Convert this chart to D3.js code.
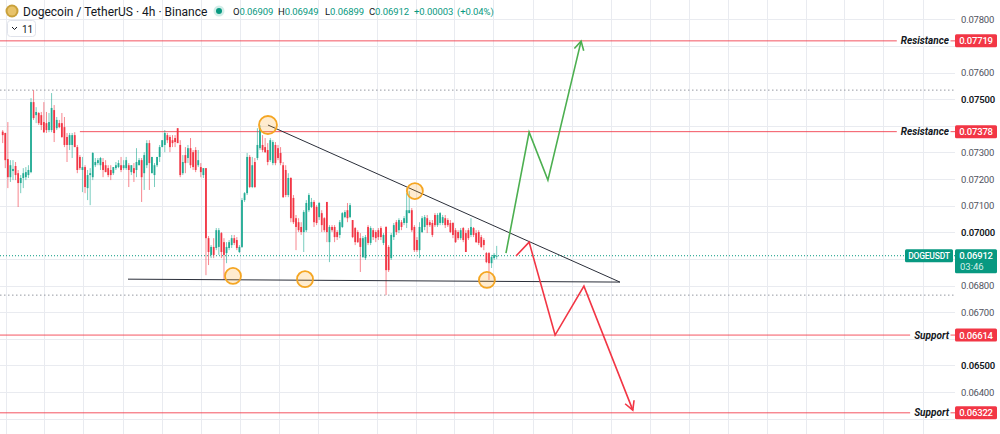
<!DOCTYPE html>
<html>
<head>
<meta charset="utf-8">
<script src="https://cdn.jsdelivr.net/npm/d3@7/dist/d3.min.js"></script>
<style>
  body { margin: 0; background: #fff; }
  svg { display: block; }
</style>
</head>
<body>
<div id="chart"></div>
<script>
// DOGE/USDT 4h candles
var opens = [
  0.07378,0.07373,0.07275,0.07207,0.07230,0.07249,0.07222,0.07185,0.07204,0.07207,
  0.07215,0.07226,0.07489,0.07440,0.07448,0.07440,0.07414,0.07410,0.07384,0.07384,
  0.07459,0.07391,0.07410,0.07410,0.07395,0.07358,0.07328,0.07328,0.07365,0.07320,
  0.07283,0.07234,0.07245,0.07166,0.07215,0.07207,0.07252,0.07260,0.07252,0.07264,
  0.07252,0.07241,0.07234,0.07222,0.07241,0.07245,0.07252,0.07241,0.07241,0.07252,
  0.07226,0.07241,0.07234,0.07252,0.07271,0.07222,0.07252,0.07335,0.07222,0.07215,
  0.07252,0.07283,0.07320,0.07328,0.07365,0.07358,0.07346,0.07354,0.07391,0.07328,
  0.07222,0.07290,0.07279,0.07316,0.07301,0.07309,0.07252,0.07245,0.07215,0.07241,
  0.06978,0.06915,0.06945,0.06941,0.06945,0.06997,0.06963,0.06922,0.06941,0.06952,
  0.06978,0.06971,0.06926,0.06945,0.07121,0.07147,0.07283,0.07170,0.07264,0.07279,
  0.07316,0.07328,0.07320,0.07309,0.07271,0.07260,0.07328,0.07316,0.07298,0.07252,
  0.07234,0.07140,0.07204,0.07129,0.07053,0.07038,0.07020,0.07001,0.07008,0.07083,
  0.07095,0.07114,0.07095,0.07057,0.07072,0.07053,0.07114,0.06963,0.07020,0.07020,
  0.07001,0.06990,0.07020,0.07057,0.07083,0.07057,0.07046,0.07016,0.07001,0.06978,
  0.06907,0.06903,0.07020,0.06960,0.07008,0.07001,0.07008,0.07016,0.06960,0.07020,
  0.06945,0.06903,0.06982,0.07038,0.07008,0.07038,0.07035,0.07035,0.07072,0.07083,
  0.07020,0.06971,0.06933,0.07001,0.07020,0.07053,0.07038,0.07035,0.07065,0.07027,
  0.07035,0.07035,0.07053,0.07046,0.07035,0.07035,0.07008,0.07001,0.06978,0.07016,
  0.06997,0.07008,0.06990,0.07016,0.06997,0.07001,0.06982,0.06971,0.06922,0.06922,
  0.06884,0.06903,0.06909
];
var highs = [
  0.07384,0.07374,0.07414,0.07271,0.07271,0.07264,0.07234,0.07215,0.07241,0.07245,
  0.07252,0.07504,0.07534,0.07470,0.07452,0.07452,0.07489,0.07452,0.07448,0.07523,
  0.07478,0.07433,0.07422,0.07448,0.07433,0.07373,0.07373,0.07373,0.07376,0.07328,
  0.07290,0.07283,0.07252,0.07234,0.07241,0.07301,0.07279,0.07279,0.07283,0.07279,
  0.07271,0.07252,0.07252,0.07245,0.07264,0.07271,0.07283,0.07271,0.07283,0.07260,
  0.07252,0.07260,0.07316,0.07279,0.07279,0.07301,0.07346,0.07346,0.07283,0.07260,
  0.07283,0.07328,0.07346,0.07384,0.07373,0.07365,0.07365,0.07365,0.07391,0.07346,
  0.07290,0.07320,0.07328,0.07354,0.07309,0.07320,0.07309,0.07260,0.07241,0.07241,
  0.06986,0.06952,0.06978,0.07016,0.07016,0.07001,0.06978,0.06963,0.06971,0.06990,
  0.06990,0.06982,0.06952,0.07129,0.07151,0.07298,0.07290,0.07283,0.07279,0.07391,
  0.07403,0.07365,0.07354,0.07335,0.07354,0.07346,0.07339,0.07328,0.07320,0.07264,
  0.07252,0.07222,0.07207,0.07140,0.07065,0.07053,0.07038,0.07083,0.07121,0.07147,
  0.07129,0.07121,0.07102,0.07114,0.07083,0.07057,0.07114,0.07027,0.07027,0.07027,
  0.07008,0.07046,0.07076,0.07083,0.07110,0.07110,0.07046,0.07020,0.07008,0.06997,
  0.06986,0.06990,0.07027,0.07023,0.07016,0.07008,0.07016,0.07023,0.06997,0.07023,
  0.06952,0.06997,0.07035,0.07046,0.07053,0.07046,0.07061,0.07147,0.07155,0.07091,
  0.07027,0.06982,0.07038,0.07061,0.07065,0.07065,0.07046,0.07046,0.07072,0.07072,
  0.07076,0.07065,0.07065,0.07053,0.07046,0.07038,0.07016,0.07008,0.07016,0.07020,
  0.07008,0.07016,0.07053,0.07020,0.07008,0.07008,0.06990,0.06978,0.06926,0.06926,
  0.06915,0.06922,0.06949
];
var lows = [
  0.07335,0.07241,0.07166,0.07189,0.07196,0.07196,0.07095,0.07147,0.07166,0.07196,
  0.07204,0.07222,0.07422,0.07410,0.07403,0.07384,0.07373,0.07373,0.07376,0.07376,
  0.07339,0.07384,0.07391,0.07354,0.07320,0.07264,0.07309,0.07279,0.07320,0.07222,
  0.07234,0.07151,0.07147,0.07121,0.07102,0.07196,0.07245,0.07252,0.07234,0.07207,
  0.07226,0.07207,0.07196,0.07215,0.07234,0.07241,0.07226,0.07234,0.07234,0.07170,
  0.07215,0.07189,0.07207,0.07252,0.07114,0.07159,0.07241,0.07159,0.07222,0.07170,
  0.07245,0.07264,0.07320,0.07301,0.07335,0.07301,0.07320,0.07320,0.07335,0.07207,
  0.07215,0.07222,0.07260,0.07241,0.07234,0.07226,0.07245,0.07207,0.07204,0.06839,
  0.06877,0.06903,0.06903,0.06933,0.06915,0.06903,0.06821,0.06884,0.06933,0.06941,
  0.06952,0.06933,0.06922,0.06941,0.07114,0.07140,0.07166,0.07166,0.07166,0.07271,
  0.07309,0.07301,0.07298,0.07252,0.07264,0.07252,0.07252,0.07271,0.07252,0.07129,
  0.07132,0.07132,0.07038,0.07031,0.06933,0.07001,0.06990,0.06926,0.07001,0.07076,
  0.07091,0.07020,0.07027,0.07046,0.07001,0.07001,0.06963,0.06888,0.07001,0.06963,
  0.06971,0.06978,0.07016,0.07053,0.07038,0.07053,0.06978,0.06952,0.06960,0.06851,
  0.06903,0.06896,0.06952,0.06952,0.06971,0.06963,0.06971,0.06971,0.06952,0.06764,
  0.06851,0.06896,0.06971,0.06990,0.06997,0.07008,0.07027,0.07016,0.07072,0.07001,
  0.06926,0.06926,0.06903,0.06997,0.07008,0.06997,0.07020,0.06982,0.07020,0.07020,
  0.07027,0.07027,0.07016,0.07020,0.06997,0.06978,0.06960,0.06971,0.06971,0.06963,
  0.06926,0.06971,0.06982,0.06982,0.06960,0.06952,0.06941,0.06933,0.06884,0.06821,
  0.06866,0.06896,0.06899
];
var closes = [
  0.07365,0.07271,0.07207,0.07252,0.07238,0.07215,0.07185,0.07204,0.07222,0.07226,
  0.07234,0.07489,0.07429,0.07452,0.07410,0.07403,0.07376,0.07384,0.07414,0.07467,
  0.07373,0.07422,0.07395,0.07358,0.07328,0.07328,0.07365,0.07365,0.07320,0.07234,
  0.07241,0.07245,0.07170,0.07215,0.07222,0.07298,0.07264,0.07271,0.07279,0.07234,
  0.07226,0.07215,0.07215,0.07245,0.07252,0.07260,0.07234,0.07252,0.07271,0.07234,
  0.07252,0.07222,0.07264,0.07271,0.07207,0.07290,0.07335,0.07260,0.07283,0.07252,
  0.07283,0.07320,0.07346,0.07373,0.07346,0.07320,0.07335,0.07339,0.07335,0.07215,
  0.07264,0.07260,0.07316,0.07252,0.07245,0.07234,0.07271,0.07226,0.07241,0.06978,
  0.06926,0.06945,0.06915,0.07008,0.07008,0.06926,0.06915,0.06945,0.06963,0.06978,
  0.06960,0.06941,0.06945,0.07121,0.07147,0.07283,0.07170,0.07252,0.07170,0.07328,
  0.07391,0.07309,0.07301,0.07264,0.07346,0.07339,0.07260,0.07279,0.07260,0.07132,
  0.07140,0.07204,0.07053,0.07038,0.07020,0.07008,0.07001,0.07076,0.07110,0.07140,
  0.07114,0.07038,0.07035,0.07110,0.07027,0.07008,0.07001,0.07020,0.07008,0.06982,
  0.06982,0.07038,0.07072,0.07076,0.07053,0.07102,0.06982,0.06963,0.06963,0.06945,
  0.06978,0.06982,0.06960,0.07016,0.06982,0.06978,0.06982,0.06982,0.06990,0.06858,
  0.06858,0.06990,0.07027,0.07001,0.07046,0.07020,0.07053,0.07083,0.07083,0.07008,
  0.06933,0.06933,0.07020,0.07053,0.07057,0.07027,0.07027,0.06990,0.07027,0.07065,
  0.07072,0.07057,0.07027,0.07027,0.07001,0.06990,0.06963,0.06978,0.07008,0.06971,
  0.06926,0.06978,0.07020,0.06990,0.06963,0.06960,0.06945,0.06952,0.06888,0.06884,
  0.06907,0.06915,0.06912
];

// price scale labels and bar positions of the vertical grid
var priceTicks = [0.078, 0.077, 0.076, 0.075, 0.074, 0.073, 0.072, 0.071, 0.070,
                  0.069, 0.068, 0.067, 0.066, 0.065, 0.064, 0.063];
var boldTicks = [0.075, 0.070, 0.065];
var timeTicks = [1.2, 16.2, 31.3, 46.9, 62.0, 77.1, 92.2, 107.4, 122.4, 145.4, 160.5,
                 175.5, 190.7, 206.0, 221.1, 236.4, 251.6, 266.7, 281.8, 296.9, 312.1,
                 327.1, 342.3, 357.6];

// horizontal levels
var levelPrices = [0.07719, 0.07378, 0.06614, 0.06322];
var levelNames = ["Resistance", "Resistance", "Support", "Support"];
var levelStart = [null, 30, null, null];

// drawings (bar index, price)
var wedgeTop = [[103.1, 0.07403], [239.9, 0.06813]];
var wedgeBase = [[48.7, 0.06824], [239.9, 0.06813]];
var pivotIdx = [103.1, 160.2, 89.5, 117.5, 188.2];
var pivotPrice = [0.07403, 0.07155, 0.06836, 0.06824, 0.06821];
var pivotRadius = [9, 8, 8, 8, 8];
var bullIdx = [195.6, 204.6, 211.9, 224.8];
var bullPrice = [0.06922, 0.07376, 0.07196, 0.07718];
var bearIdx = [199.5, 204.6, 214.7, 225.9, 244.9];
var bearPrice = [0.06911, 0.06963, 0.06614, 0.06798, 0.06332];

var width = 1000, height = 434, plotRight = 955;
var green = "#22ab94", red = "#f23645", teal = "#089981";
var axisFont = 9.5;

var svg = d3.select("#chart")
  .append("svg")
  .attr("width", width)
  .attr("height", height)
  .style("font-family", "Roboto, 'Noto Sans', sans-serif");

var x = d3.scaleLinear()
  .domain([0, opens.length - 1])
  .range([2.7, 496.7]);
var y = d3.scaleLinear()
  .domain([0.070, 0.078])
  .range([232.3, 19.3]);

// grid
svg.append("g").selectAll("line")
  .data(priceTicks)
  .enter().append("line")
  .attr("x1", 0).attr("x2", plotRight)
  .attr("y1", d => Math.round(y(d)) + 0.5)
  .attr("y2", d => Math.round(y(d)) + 0.5)
  .attr("stroke", "#e9ebf0");
svg.append("g").selectAll("line")
  .data(timeTicks)
  .enter().append("line")
  .attr("x1", d => Math.round(x(d)) + 0.5)
  .attr("x2", d => Math.round(x(d)) + 0.5)
  .attr("y1", 0).attr("y2", height)
  .attr("stroke", "#e9ebf0");

// visible high / low lines
var hi = d3.max(highs), lo = d3.min(lows);
svg.append("g").selectAll("line")
  .data([hi, lo])
  .enter().append("line")
  .attr("x1", 0).attr("x2", plotRight)
  .attr("y1", d => y(d)).attr("y2", d => y(d))
  .attr("stroke", "#9598a1")
  .attr("stroke-width", 1)
  .attr("stroke-dasharray", "1.5,2.5");

// levels
var levels = svg.append("g");
levelPrices.forEach(function(p, i) {
  var yy = y(p);
  var label = levels.append("text")
    .attr("x", 949)
    .attr("y", yy + 3.5)
    .attr("text-anchor", "end")
    .attr("font-size", 10)
    .attr("font-style", "italic")
    .attr("font-weight", "bold")
    .attr("fill", "#131722")
    .text(levelNames[i]);
  var textStart = 949 - label.node().getComputedTextLength();
  var x0 = levelStart[i] === null ? 0 : x(levelStart[i]);
  levels.insert("line", "text")
    .attr("x1", x0).attr("x2", textStart - 4)
    .attr("y1", yy).attr("y2", yy)
    .attr("stroke", red).attr("stroke-opacity", 0.85);
  levels.insert("line", "text")
    .attr("x1", 950.5).attr("x2", plotRight)
    .attr("y1", yy).attr("y2", yy)
    .attr("stroke", red).attr("stroke-opacity", 0.85);
});

// current price line
var last = closes[closes.length - 1];
svg.append("line")
  .attr("x1", 0).attr("x2", plotRight)
  .attr("y1", y(last)).attr("y2", y(last))
  .attr("stroke", teal)
  .attr("stroke-dasharray", "1,2");

// candles
var bars = svg.append("g").selectAll("g")
  .data(d3.range(opens.length))
  .enter().append("g");
bars.append("line")
  .attr("x1", i => x(i)).attr("x2", i => x(i))
  .attr("y1", i => y(highs[i])).attr("y2", i => y(lows[i]))
  .attr("stroke", i => closes[i] >= opens[i] ? green : red)
  .attr("stroke-opacity", 0.6)
  .attr("stroke-width", 1);
bars.append("rect")
  .attr("x", i => x(i) - 0.9)
  .attr("width", 1.8)
  .attr("y", i => y(Math.max(opens[i], closes[i])))
  .attr("height", i => Math.max(1, Math.abs(y(opens[i]) - y(closes[i]))))
  .attr("fill", i => closes[i] >= opens[i] ? green : red);

// wedge
var line = d3.line().x(d => x(d[0])).y(d => y(d[1]));
[wedgeTop, wedgeBase].forEach(function(pts) {
  svg.append("path")
    .attr("d", line(pts))
    .attr("fill", "none")
    .attr("stroke", "#2a2e39")
    .attr("stroke-width", 1);
});

svg.append("g").selectAll("circle")
  .data(pivotIdx)
  .enter().append("circle")
  .attr("cx", d => x(d))
  .attr("cy", (d, i) => y(pivotPrice[i]))
  .attr("r", (d, i) => pivotRadius[i])
  .attr("fill", "rgba(255,167,38,0.22)")
  .attr("stroke", "#f5a623")
  .attr("stroke-width", 1.8);

// scenario arrows
function arrow(idx, prices, color) {
  var pts = idx.map((d, i) => [x(d), y(prices[i])]);
  svg.append("path")
    .attr("d", d3.line()(pts))
    .attr("fill", "none")
    .attr("stroke", color)
    .attr("stroke-width", 1.6)
    .attr("stroke-linejoin", "miter");
  var a = pts[pts.length - 2], b = pts[pts.length - 1];
  var ang = Math.atan2(b[1] - a[1], b[0] - a[0]);
  var len = 10;
  var head = [
    [b[0] + len * Math.cos(ang + Math.PI - 0.5), b[1] + len * Math.sin(ang + Math.PI - 0.5)],
    b,
    [b[0] + len * Math.cos(ang + Math.PI + 0.5), b[1] + len * Math.sin(ang + Math.PI + 0.5)]
  ];
  svg.append("path")
    .attr("d", d3.line()(head))
    .attr("fill", "none")
    .attr("stroke", color)
    .attr("stroke-width", 1.6);
}
arrow(bullIdx, bullPrice, "#4caf50");
arrow(bearIdx, bearPrice, red);

// price axis (labels hidden under a tag are left out)
svg.append("rect")
  .attr("x", plotRight).attr("y", 0)
  .attr("width", width - plotRight).attr("height", height)
  .attr("fill", "#fff");
var last = closes[closes.length - 1];
var tagged = levelPrices.concat([last]);
var shownTicks = priceTicks.filter(function(t) {
  return tagged.every(p => Math.abs(y(t) - y(p)) > 8);
});
svg.append("g").selectAll("text")
  .data(shownTicks)
  .enter().append("text")
  .attr("x", 961)
  .attr("y", d => y(d) + 3.5)
  .attr("font-size", axisFont)
  .attr("letter-spacing", -0.2)
  .attr("font-weight", d => boldTicks.indexOf(d) >= 0 ? 600 : 400)
  .attr("fill", d => boldTicks.indexOf(d) >= 0 ? "#131722" : "#50535e")
  .text(d => d.toFixed(5));

levelPrices.forEach(function(p) {
  svg.append("rect")
    .attr("x", 955).attr("y", y(p) - 6.5)
    .attr("width", 42).attr("height", 13)
    .attr("rx", 1.5)
    .attr("fill", red);
  svg.append("text")
    .attr("x", 976).attr("y", y(p) + 3.5)
    .attr("text-anchor", "middle")
    .attr("font-size", axisFont)
    .attr("letter-spacing", -0.2)
    .attr("font-weight", 500)
    .attr("fill", "#fff")
    .text(p.toFixed(5));
});

// symbol tag
var ly = y(last);
svg.append("rect")
  .attr("x", 905).attr("y", ly - 6.5)
  .attr("width", 48).attr("height", 13)
  .attr("rx", 1.5)
  .attr("fill", teal);
svg.append("text")
  .attr("x", 929).attr("y", ly + 3.2)
  .attr("text-anchor", "middle")
  .attr("font-size", 8.5)
  .attr("font-weight", 500)
  .attr("letter-spacing", -0.2)
  .attr("fill", "#fff")
  .text("DOGEUSDT");
svg.append("rect")
  .attr("x", 955).attr("y", ly - 6.5)
  .attr("width", 42).attr("height", 24)
  .attr("rx", 1.5)
  .attr("fill", teal);
svg.append("text")
  .attr("x", 976).attr("y", ly + 3.5)
  .attr("text-anchor", "middle")
  .attr("font-size", axisFont)
  .attr("letter-spacing", -0.2)
  .attr("font-weight", 500)
  .attr("fill", "#fff")
  .text(last.toFixed(5));
svg.append("text")
  .attr("x", 960).attr("y", ly + 14)
  .attr("font-size", 9.5)
  .attr("fill", "#d5efea")
  .text("03:46");

// header
svg.append("circle").attr("cx", 12).attr("cy", 11).attr("r", 6.5).attr("fill", "#c9a13b");
svg.append("circle").attr("cx", 12).attr("cy", 11).attr("r", 4.5).attr("fill", "#e8c36a");
svg.append("text")
  .attr("x", 23).attr("y", 15.5)
  .attr("font-size", 12)
  .attr("fill", "#131722")
  .text("Dogecoin / TetherUS · 4h · Binance");
svg.append("circle").attr("cx", 219).attr("cy", 11).attr("r", 5.5).attr("fill", "rgba(8,153,129,0.18)");
svg.append("circle").attr("cx", 219).attr("cy", 11).attr("r", 3).attr("fill", teal);

var ohlcKeys = ["O", "H", "L", "C", "", ""];
var ohlcVals = ["0.06909", "0.06949", "0.06899", "0.06912", "+0.00003", "(+0.04%)"];
var ohlcX = [233, 278, 325, 369, 414, 457];
ohlcKeys.forEach(function(k, i) {
  var t = svg.append("text")
    .attr("x", ohlcX[i]).attr("y", 15)
    .attr("font-size", 9.5)
    .attr("letter-spacing", -0.1);
  t.append("tspan").attr("fill", "#131722").text(k);
  t.append("tspan").attr("fill", teal).text(ohlcVals[i]);
});

svg.append("rect")
  .attr("x", 7.5).attr("y", 20.5)
  .attr("width", 28).attr("height", 16)
  .attr("rx", 3)
  .attr("fill", "#fff")
  .attr("stroke", "#e0e3eb");
svg.append("path")
  .attr("d", "M12,27 L14.5,29.5 L17,27")
  .attr("fill", "none")
  .attr("stroke", "#131722")
  .attr("stroke-width", 1);
svg.append("text")
  .attr("x", 22).attr("y", 32.5)
  .attr("font-size", 10)
  .attr("fill", "#131722")
  .text("11");
</script>
</body>
</html>
